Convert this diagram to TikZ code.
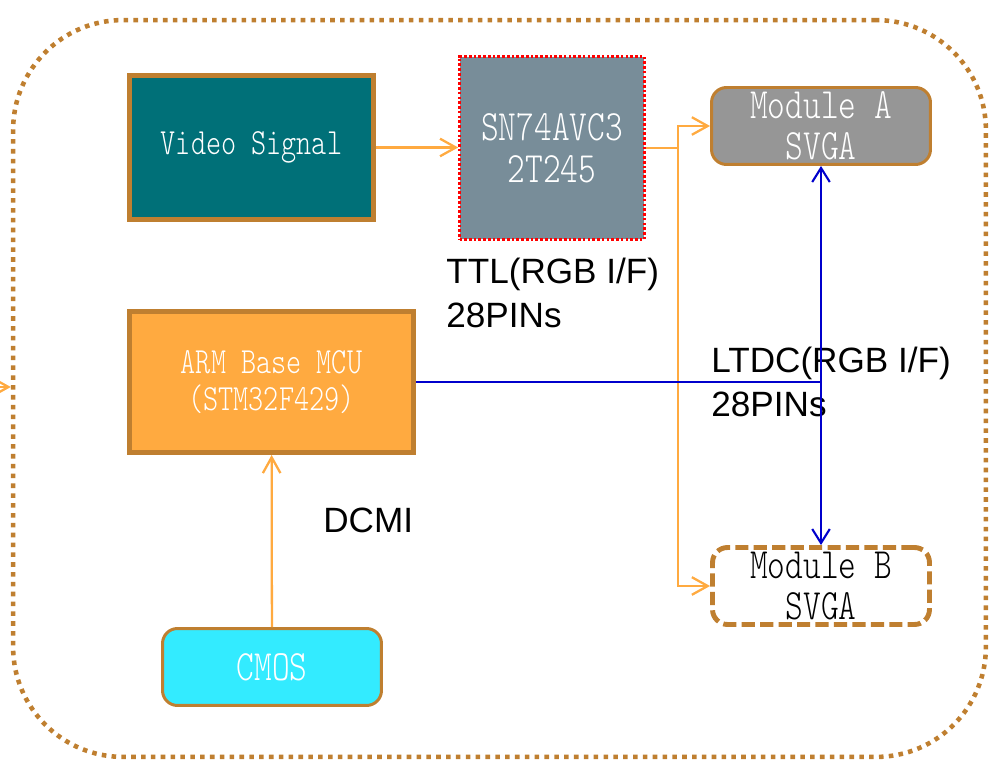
\documentclass[tikz,border=0pt]{standalone}
\usepackage{fontspec}
\usetikzlibrary{arrows.meta}
\newfontfamily\labelfont{Liberation Sans}
\newfontfamily\boxfamily{lmmonolt10-regular.otf}[FakeStretch=0.78]
\definecolor{framebrown}{RGB}{191,127,48}
\definecolor{videoteal}{RGB}{0,112,120}
\definecolor{bufslate}{RGB}{120,141,153}
\definecolor{modgray}{RGB}{150,150,150}
\definecolor{armorange}{RGB}{255,170,64}
\definecolor{cmoscyan}{RGB}{51,235,255}
\definecolor{busblue}{RGB}{0,0,204}
\newcommand{\boxfont}[1]{\boxfamily\fontsize{#1}{#1}\selectfont}
\tikzset{
    block/.style={draw=framebrown,line width=2.8pt,text=white,align=center,inner sep=0pt},
    module/.style={draw=framebrown,line width=1.7pt,rounded corners=0.3cm,align=center,inner sep=0pt,
        minimum width=4.38cm,minimum height=1.54cm,font=\boxfont{24.6}},
    pinlabel/.style={anchor=west,align=left,inner sep=0pt,font=\labelfont\fontsize{20}{25}\selectfont},
    orangeline/.style={draw=armorange,line width=1.3pt,-{Straight Barb[length=9pt,width=10pt]}},
    blueline/.style={draw=busblue,line width=1.2pt},
    bluetip/.style={{Straight Barb[length=8pt,width=10pt]}-{Straight Barb[length=8pt,width=10pt]}}
}
\begin{document}
\begin{tikzpicture}[x=0.02cm,y=-0.02cm]
    \useasboundingbox (0,0) rectangle (998,773);
    \node[draw=framebrown,line width=2.6pt,dash pattern=on 2.6pt off 3pt,rounded corners=2.2cm,
        minimum width=19.46cm,minimum height=14.74cm] (frame) at (499.5,388.5) {};

    \node[block,fill=videoteal,minimum width=4.88cm,minimum height=2.88cm,font=\boxfont{21}] (video) at (251.5,147.5) {Video Signal};
    \node[draw=red,line width=1.5pt,dash pattern=on 1.5pt off 1.2pt,fill=bufslate,text=white,align=center,inner sep=0pt,
        minimum width=3.7cm,minimum height=3.66cm,font=\boxfont{24.6}] (buffer) at (552,148) {SN74AVC3\\[-0.7pt]2T245};
    \node[module,fill=modgray,text=white] (modA) at (821,126) {Module A\\[-1pt]SVGA};
    \node[block,fill=armorange,minimum width=5.68cm,minimum height=2.82cm,font=\boxfont{21}] (arm) at (271.5,382) {ARM Base MCU\\(STM32F429)};
    \node[module,fill=cmoscyan,text=white] (cmos) at (272,667) {CMOS};
    \node[module,line width=2.8pt,dash pattern=on 7.5pt off 3pt,fill=white,text=black,minimum width=4.34cm] (modB) at (821,586) {Module B\\[-1pt]SVGA};

    \node[pinlabel] (ttl) at (446,293) {TTL(RGB I/F)\\28PINs};
    \node[pinlabel] (ltdc) at (711,382) {LTDC(RGB I/F)\\28PINs};
    \node[pinlabel] (dcmi) at (323,520) {DCMI};

    \coordinate (split) at (678,148);
    \coordinate (bus) at (modA.south |- arm.east);
    \coordinate (entry) at (-12,387);

    \draw[orangeline] (video.east) -- (video.east -| buffer.west);
    \draw[orangeline] (buffer.east |- split) -- (split) |- (modA.west);
    \draw[orangeline] (split) |- (modB.west);
    \draw[orangeline] (cmos) -- (arm);
    \draw[orangeline] (entry) -- (entry -| frame.west);
    \draw[blueline] (arm.east) -- (bus);
    \draw[blueline,bluetip] (modA.south) -- (modB.north);
\end{tikzpicture}
\end{document}
